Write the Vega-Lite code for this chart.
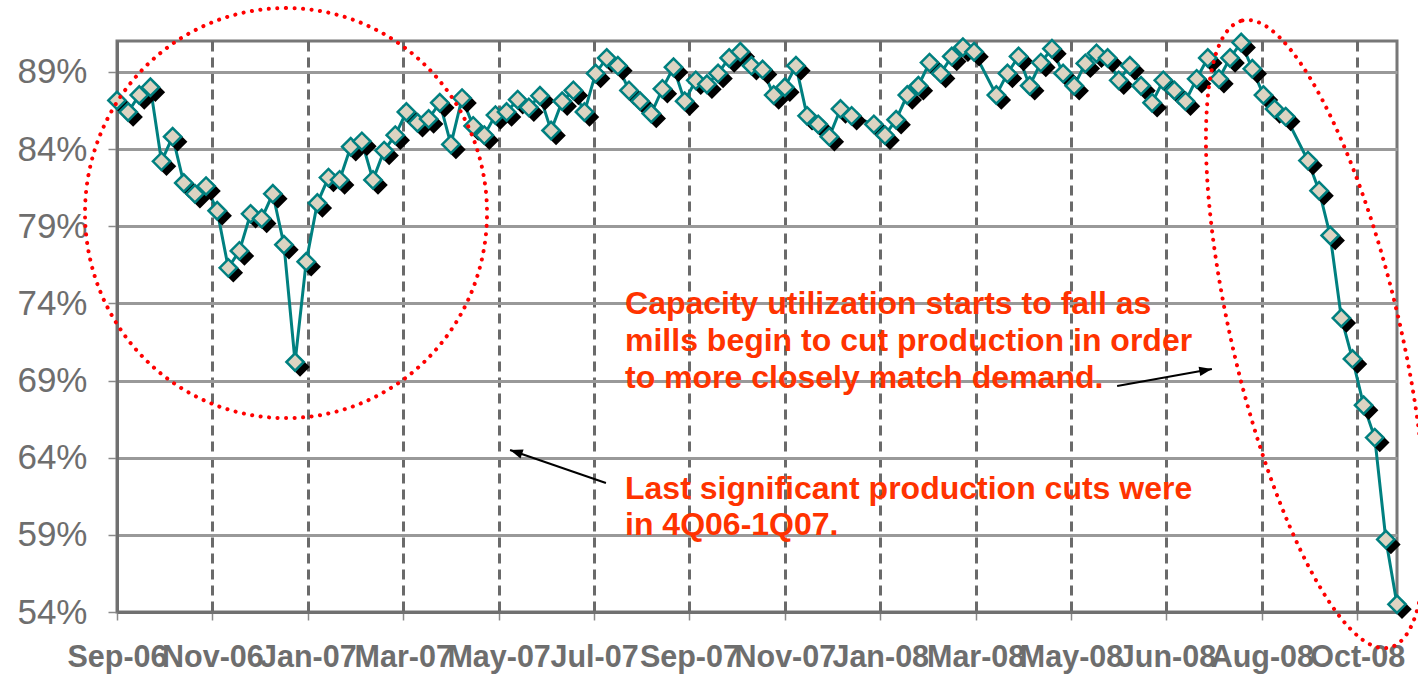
{
  "$schema": "https://vega.github.io/schema/vega-lite/v6.json",
  "width": 1280,
  "height": 571,
  "autosize": {"type": "none"},
  "padding": {"left": 117, "top": 41, "right": 21, "bottom": 65},
  "background": "#ffffff",
  "config": {
    "view": {"stroke": "#777777", "strokeWidth": 3},
    "axis": {"title": null}
  },
  "datasets": {
    "series": [
      {"date": "2006-09-09", "value": 0.8715},
      {"date": "2006-09-16", "value": 0.864},
      {"date": "2006-09-23", "value": 0.875},
      {"date": "2006-09-30", "value": 0.880},
      {"date": "2006-10-07", "value": 0.832},
      {"date": "2006-10-14", "value": 0.848},
      {"date": "2006-10-21", "value": 0.818},
      {"date": "2006-10-28", "value": 0.811},
      {"date": "2006-11-04", "value": 0.816},
      {"date": "2006-11-11", "value": 0.800},
      {"date": "2006-11-18", "value": 0.763},
      {"date": "2006-11-25", "value": 0.774},
      {"date": "2006-12-02", "value": 0.798},
      {"date": "2006-12-09", "value": 0.795},
      {"date": "2006-12-16", "value": 0.811},
      {"date": "2006-12-23", "value": 0.778},
      {"date": "2006-12-30", "value": 0.702},
      {"date": "2007-01-06", "value": 0.767},
      {"date": "2007-01-13", "value": 0.805},
      {"date": "2007-01-20", "value": 0.8215},
      {"date": "2007-01-27", "value": 0.820},
      {"date": "2007-02-03", "value": 0.8415},
      {"date": "2007-02-10", "value": 0.845},
      {"date": "2007-02-17", "value": 0.820},
      {"date": "2007-02-24", "value": 0.839},
      {"date": "2007-03-03", "value": 0.849},
      {"date": "2007-03-10", "value": 0.864},
      {"date": "2007-03-17", "value": 0.857},
      {"date": "2007-03-24", "value": 0.8595},
      {"date": "2007-03-31", "value": 0.870},
      {"date": "2007-04-07", "value": 0.843},
      {"date": "2007-04-14", "value": 0.873},
      {"date": "2007-04-21", "value": 0.855},
      {"date": "2007-04-28", "value": 0.849},
      {"date": "2007-05-05", "value": 0.862},
      {"date": "2007-05-12", "value": 0.864},
      {"date": "2007-05-19", "value": 0.872},
      {"date": "2007-05-26", "value": 0.867},
      {"date": "2007-06-02", "value": 0.8745},
      {"date": "2007-06-09", "value": 0.852},
      {"date": "2007-06-16", "value": 0.871},
      {"date": "2007-06-23", "value": 0.878},
      {"date": "2007-06-30", "value": 0.864},
      {"date": "2007-07-07", "value": 0.889},
      {"date": "2007-07-14", "value": 0.899},
      {"date": "2007-07-21", "value": 0.894},
      {"date": "2007-07-28", "value": 0.878},
      {"date": "2007-08-04", "value": 0.871},
      {"date": "2007-08-11", "value": 0.863},
      {"date": "2007-08-18", "value": 0.879},
      {"date": "2007-08-25", "value": 0.893},
      {"date": "2007-09-01", "value": 0.871},
      {"date": "2007-09-08", "value": 0.8845},
      {"date": "2007-09-15", "value": 0.882},
      {"date": "2007-09-22", "value": 0.889},
      {"date": "2007-09-29", "value": 0.899},
      {"date": "2007-10-06", "value": 0.903},
      {"date": "2007-10-13", "value": 0.894},
      {"date": "2007-10-20", "value": 0.8915},
      {"date": "2007-10-27", "value": 0.875},
      {"date": "2007-11-03", "value": 0.880},
      {"date": "2007-11-10", "value": 0.894},
      {"date": "2007-11-17", "value": 0.8615},
      {"date": "2007-11-24", "value": 0.856},
      {"date": "2007-12-01", "value": 0.848},
      {"date": "2007-12-08", "value": 0.866},
      {"date": "2007-12-15", "value": 0.8615},
      {"date": "2007-12-29", "value": 0.856},
      {"date": "2008-01-05", "value": 0.849},
      {"date": "2008-01-12", "value": 0.859},
      {"date": "2008-01-19", "value": 0.875},
      {"date": "2008-01-26", "value": 0.881},
      {"date": "2008-02-02", "value": 0.896},
      {"date": "2008-02-09", "value": 0.889},
      {"date": "2008-02-16", "value": 0.900},
      {"date": "2008-02-23", "value": 0.906},
      {"date": "2008-03-01", "value": 0.903},
      {"date": "2008-03-15", "value": 0.875},
      {"date": "2008-03-22", "value": 0.889},
      {"date": "2008-03-29", "value": 0.900},
      {"date": "2008-04-05", "value": 0.881},
      {"date": "2008-04-12", "value": 0.896},
      {"date": "2008-04-19", "value": 0.905},
      {"date": "2008-04-26", "value": 0.889},
      {"date": "2008-05-03", "value": 0.881},
      {"date": "2008-05-10", "value": 0.8955},
      {"date": "2008-05-17", "value": 0.902},
      {"date": "2008-05-24", "value": 0.899},
      {"date": "2008-05-31", "value": 0.8845},
      {"date": "2008-06-07", "value": 0.894},
      {"date": "2008-06-14", "value": 0.881},
      {"date": "2008-06-21", "value": 0.870},
      {"date": "2008-06-28", "value": 0.8845},
      {"date": "2008-07-05", "value": 0.878},
      {"date": "2008-07-12", "value": 0.871},
      {"date": "2008-07-19", "value": 0.8855},
      {"date": "2008-07-26", "value": 0.899},
      {"date": "2008-08-02", "value": 0.8855},
      {"date": "2008-08-09", "value": 0.899},
      {"date": "2008-08-16", "value": 0.909},
      {"date": "2008-08-23", "value": 0.892},
      {"date": "2008-08-30", "value": 0.875},
      {"date": "2008-09-06", "value": 0.866},
      {"date": "2008-09-13", "value": 0.861},
      {"date": "2008-09-27", "value": 0.8325},
      {"date": "2008-10-04", "value": 0.813},
      {"date": "2008-10-11", "value": 0.784},
      {"date": "2008-10-18", "value": 0.7305},
      {"date": "2008-10-25", "value": 0.704},
      {"date": "2008-11-01", "value": 0.674},
      {"date": "2008-11-08", "value": 0.653},
      {"date": "2008-11-15", "value": 0.587},
      {"date": "2008-11-22", "value": 0.545}
    ],
    "notes": [
      {"date": "2007-07-25T12:00:00Z", "value": 0.7331, "label": "Capacity utilization starts to fall as"},
      {"date": "2007-07-25T12:00:00Z", "value": 0.7091, "label": "mills begin to cut production in order"},
      {"date": "2007-07-25T12:00:00Z", "value": 0.6851, "label": "to more closely match demand."},
      {"date": "2007-07-25T12:00:00Z", "value": 0.6132, "label": "Last significant production cuts were"},
      {"date": "2007-07-25T12:00:00Z", "value": 0.5899, "label": "in 4Q06-1Q07."}
    ],
    "arrows": [
      {"date": "2008-05-30T00:00:00Z", "value": 0.6864, "date2": "2008-07-28T14:00:00Z", "value2": 0.6974},
      {"date": "2007-07-13T12:00:00Z", "value": 0.6236, "date2": "2007-05-14T05:00:00Z", "value2": 0.645}
    ]
  },
  "layer": [
    {
      "data": {"name": "series"},
      "mark": {"type": "line", "color": "#008080", "strokeWidth": 3},
      "encoding": {
        "x": {
          "field": "date",
          "type": "temporal",
          "scale": {
            "type": "utc",
            "domain": [
              {"year": 2006, "month": 9, "date": 9, "utc": true},
              {"year": 2008, "month": 11, "date": 22, "utc": true}
            ]
          },
          "axis": {
            "values": [
              {"year": 2006, "month": 9, "date": 9, "utc": true},
              {"year": 2006, "month": 11, "date": 8, "utc": true},
              {"year": 2007, "month": 1, "date": 7, "utc": true},
              {"year": 2007, "month": 3, "date": 8, "utc": true},
              {"year": 2007, "month": 5, "date": 7, "utc": true},
              {"year": 2007, "month": 7, "date": 6, "utc": true},
              {"year": 2007, "month": 9, "date": 4, "utc": true},
              {"year": 2007, "month": 11, "date": 3, "utc": true},
              {"year": 2008, "month": 1, "date": 2, "utc": true},
              {"year": 2008, "month": 3, "date": 2, "utc": true},
              {"year": 2008, "month": 5, "date": 1, "utc": true},
              {"year": 2008, "month": 6, "date": 30, "utc": true},
              {"year": 2008, "month": 8, "date": 29, "utc": true},
              {"year": 2008, "month": 10, "date": 28, "utc": true}
            ],
            "labelExpr": "utcFormat(datum.value, '%b-%y')",
            "title": null,
            "labelFont": "Liberation Sans",
            "labelFontWeight": "bold",
            "labelFontSize": 30.5,
            "labelColor": "#6e6e6e",
            "labelOverlap": false,
            "labelBound": false,
            "labelFlush": false,
            "labelPadding": 22,
            "tickSize": 8,
            "tickColor": "#8a8a8a",
            "tickWidth": 1.5,
            "domainColor": "#707070",
            "domainWidth": 3,
            "grid": true,
            "gridDash": [10, 6],
            "gridColor": "#6a6a6a",
            "gridWidth": 3
          }
        },
        "y": {
          "field": "value",
          "type": "quantitative",
          "scale": {"domain": [0.54, 0.91], "nice": false, "zero": false},
          "axis": {
            "values": [0.54, 0.59, 0.64, 0.69, 0.74, 0.79, 0.84, 0.89],
            "format": ".0%",
            "title": null,
            "labelFont": "Liberation Sans",
            "labelFontSize": 35,
            "labelColor": "#6e6e6e",
            "labelPadding": 21,
            "tickSize": 9,
            "tickColor": "#8a8a8a",
            "tickWidth": 1.5,
            "domainColor": "#707070",
            "domainWidth": 3,
            "grid": true,
            "gridColor": "#999999",
            "gridWidth": 3
          }
        }
      }
    },
    {
      "data": {"name": "series"},
      "mark": {"type": "point", "shape": "diamond", "filled": true, "color": "#000000", "size": 380, "opacity": 1, "xOffset": 5, "yOffset": 5},
      "encoding": {
        "x": {"field": "date", "type": "temporal"},
        "y": {"field": "value", "type": "quantitative"}
      }
    },
    {
      "data": {"name": "series"},
      "mark": {"type": "point", "shape": "diamond", "filled": true, "fill": "#DCD4C2", "stroke": "#008080", "strokeWidth": 2.5, "size": 300, "opacity": 1},
      "encoding": {
        "x": {"field": "date", "type": "temporal"},
        "y": {"field": "value", "type": "quantitative"}
      }
    },
    {
      "data": {"values": [{"date": "2006-12-24T07:00:00Z", "value": 0.7985}]},
      "mark": {
        "type": "point",
        "shape": "M0,-1.02C0.5523,-1.02 1,-0.5633 1,0C1,0.5633 0.5523,1.02 0,1.02C-0.5523,1.02 -1,0.5633 -1,0C-1,-0.5633 -0.5523,-1.02 0,-1.02Z",
        "size": 161604,
        "filled": false,
        "fill": null,
        "stroke": "#FF0000",
        "strokeWidth": 4,
        "strokeDash": [0.1, 8.4],
        "strokeCap": "round",
        "opacity": 1
      },
      "encoding": {
        "x": {"field": "date", "type": "temporal"},
        "y": {"field": "value", "type": "quantitative"}
      }
    },
    {
      "data": {"values": [{"date": "2008-10-02T00:00:00Z", "value": 0.7201}]},
      "mark": {
        "type": "point",
        "shape": "M0,-1C0.1441,-1 0.2609,-0.5523 0.2609,0C0.2609,0.5523 0.1441,1 0,1C-0.1441,1 -0.2609,0.5523 -0.2609,0C-0.2609,-0.5523 -0.1441,-1 0,-1Z",
        "size": 414736,
        "angle": 346.8,
        "filled": false,
        "fill": null,
        "stroke": "#FF0000",
        "strokeWidth": 4,
        "strokeDash": [0.1, 8.4],
        "strokeCap": "round",
        "opacity": 1
      },
      "encoding": {
        "x": {"field": "date", "type": "temporal"},
        "y": {"field": "value", "type": "quantitative"}
      }
    },
    {
      "data": {"name": "arrows"},
      "mark": {"type": "rule", "color": "#000000", "strokeWidth": 2},
      "encoding": {
        "x": {"field": "date", "type": "temporal"},
        "y": {"field": "value", "type": "quantitative"},
        "x2": {"field": "date2"},
        "y2": {"field": "value2"}
      }
    },
    {
      "data": {"values": [{"date": "2008-07-28T14:00:00Z", "value": 0.6974}]},
      "mark": {"type": "point", "shape": "M0,0L-2,-0.75L-2,0.75Z", "size": 160, "angle": 349.9, "filled": true, "color": "#000000", "opacity": 1},
      "encoding": {
        "x": {"field": "date", "type": "temporal"},
        "y": {"field": "value", "type": "quantitative"}
      }
    },
    {
      "data": {"values": [{"date": "2007-05-14T05:00:00Z", "value": 0.645}]},
      "mark": {"type": "point", "shape": "M0,0L-2,-0.75L-2,0.75Z", "size": 160, "angle": 199, "filled": true, "color": "#000000", "opacity": 1},
      "encoding": {
        "x": {"field": "date", "type": "temporal"},
        "y": {"field": "value", "type": "quantitative"}
      }
    },
    {
      "data": {"name": "notes"},
      "mark": {"type": "text", "align": "left", "baseline": "alphabetic", "font": "Liberation Sans", "fontWeight": "bold", "fontSize": 32, "color": "#FF3300"},
      "encoding": {
        "x": {"field": "date", "type": "temporal"},
        "y": {"field": "value", "type": "quantitative"},
        "text": {"field": "label"}
      }
    }
  ]
}
